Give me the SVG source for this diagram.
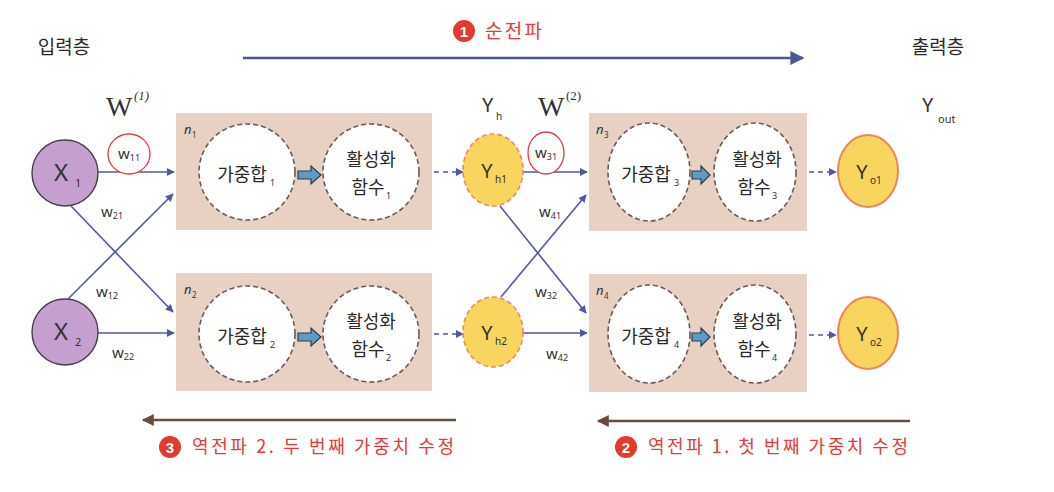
<svg xmlns="http://www.w3.org/2000/svg" width="1054" height="492" viewBox="0 0 1054 492">
<defs>
<style>
.k{font-family:"Noto Sans CJK KR","Noto Sans",sans-serif;fill:#2a2a2a}
.red{fill:#e8393a}
.box{fill:#e8d0c2}
.dc{fill:#fff;stroke:#6b5a55;stroke-width:1.6;stroke-dasharray:5 3}
.ln{stroke:#4f58a6;stroke-width:1.6;fill:none}
.dl{stroke:#4f58a6;stroke-width:1.6;fill:none;stroke-dasharray:5 4}
.xin{fill:#c49fd0;stroke:#4a3d4a;stroke-width:1.4}
.yh{fill:#f8d55e;stroke:#ec8a5c;stroke-width:1.6;stroke-dasharray:5 3}
.yo{fill:#f8d55e;stroke:#ef8458;stroke-width:2}
.blk{fill:#5b9bc6;stroke:#2f3a48;stroke-width:1.2}
.w{font-family:"Liberation Serif",serif;fill:#333}
.lab{font-family:"Noto Sans","Noto Sans CJK KR",sans-serif;fill:#333}
.wl{font-family:"Noto Sans",sans-serif;fill:#333;font-size:15px}
.s{font-size:9px}
.num{font-family:"Liberation Sans",sans-serif;font-weight:bold;fill:#fff;font-size:15px}
</style>
<marker id="ah" viewBox="0 0 10 10" refX="9" refY="5" markerWidth="8" markerHeight="8" markerUnits="userSpaceOnUse" orient="auto"><path d="M0,0 L10,5 L0,10 z" fill="#4f58a6"/></marker>
<marker id="big" viewBox="0 0 10 10" refX="9" refY="5" markerWidth="16" markerHeight="14" markerUnits="userSpaceOnUse" orient="auto"><path d="M0,0 L10,5 L0,10 z" fill="#4c5596"/></marker>
<marker id="brn" viewBox="0 0 10 10" refX="9" refY="5" markerWidth="16" markerHeight="12" markerUnits="userSpaceOnUse" orient="auto"><path d="M0,0 L10,5 L0,10 z" fill="#6a4c3c"/></marker>
</defs>
<rect width="1054" height="492" fill="#fff"/>

<!-- titles -->
<g id="titles">
<text x="64" y="54" class="k" font-size="19" text-anchor="middle">입력층</text>
<text x="938" y="54" class="k" font-size="19" text-anchor="middle">출력층</text>
<circle cx="464" cy="31" r="11" fill="#e23a2c"/><text x="464" y="36.5" class="num" text-anchor="middle">1</text>
<text x="485" y="38" class="k red" font-size="19" textLength="57" lengthAdjust="spacing">순전파</text>
<text x="106" y="116" class="w" font-size="28">W</text><text x="134" y="100" class="w" font-size="13" font-style="italic">(1)</text>
<text x="538" y="116" class="w" font-size="28">W</text><text x="566" y="100" class="w" font-size="13">(2)</text>
<text x="482" y="112" class="lab" font-size="20">Y</text><text x="496" y="120" class="lab" font-size="10">h</text>
<text x="922" y="112" class="lab" font-size="20">Y</text><text x="938" y="123" class="lab" font-size="11">out</text>
</g>

<!-- connectors -->
<g id="connectors">
<line x1="243" y1="58" x2="803" y2="58" stroke="#4c5596" stroke-width="2.5" marker-end="url(#big)"/>
<line x1="456" y1="420" x2="143" y2="420" stroke="#6a4c3c" stroke-width="2.5" marker-end="url(#brn)"/>
<line x1="910" y1="421" x2="598" y2="421" stroke="#6a4c3c" stroke-width="2.5" marker-end="url(#brn)"/>
<line x1="98" y1="172" x2="174" y2="172" class="ln" marker-end="url(#ah)"/>
<line x1="71" y1="206" x2="173" y2="312" class="ln" marker-end="url(#ah)"/>
<line x1="68" y1="299" x2="173" y2="194" class="ln" marker-end="url(#ah)"/>
<line x1="98" y1="333" x2="174" y2="333" class="ln" marker-end="url(#ah)"/>
<line x1="523" y1="172" x2="587" y2="172" class="ln" marker-end="url(#ah)"/>
<line x1="500" y1="206" x2="586" y2="313" class="ln" marker-end="url(#ah)"/>
<line x1="501" y1="297" x2="586" y2="195" class="ln" marker-end="url(#ah)"/>
<line x1="523" y1="333" x2="587" y2="333" class="ln" marker-end="url(#ah)"/>
<line x1="434" y1="172" x2="463" y2="172" class="dl" marker-end="url(#ah)"/>
<line x1="434" y1="334" x2="463" y2="334" class="dl" marker-end="url(#ah)"/>
<line x1="809" y1="172" x2="836" y2="172" class="dl" marker-end="url(#ah)"/>
<line x1="809" y1="335" x2="836" y2="335" class="dl" marker-end="url(#ah)"/>
<text x="101" y="217" class="wl">w<tspan class="s" dy="2">21</tspan></text>
<text x="96" y="297" class="wl">w<tspan class="s" dy="2">12</tspan></text>
<text x="112" y="358" class="wl">w<tspan class="s" dy="2">22</tspan></text>
<text x="539" y="217" class="wl">w<tspan class="s" dy="2">41</tspan></text>
<text x="535" y="297" class="wl">w<tspan class="s" dy="2">32</tspan></text>
<text x="546" y="359" class="wl">w<tspan class="s" dy="2">42</tspan></text>
<ellipse cx="129" cy="154" rx="21" ry="20" fill="#fff" stroke="#e8393a" stroke-width="1.3"/>
<text x="118" y="159" class="wl red">w<tspan class="s" dy="2">11</tspan></text>
<ellipse cx="546" cy="153" rx="18" ry="21" fill="#fff" stroke="#e8393a" stroke-width="1.3"/>
<text x="535" y="158" class="wl red">w<tspan class="s" dy="2">31</tspan></text>
</g>

<!-- input nodes -->
<g id="x1"><circle cx="65" cy="173" r="33" class="xin"/><text x="61" y="181" class="lab" font-size="24" text-anchor="middle">X</text><text x="75" y="187" class="lab" font-size="11">1</text></g>
<g id="x2"><circle cx="65" cy="332" r="33" class="xin"/><text x="61" y="340" class="lab" font-size="24" text-anchor="middle">X</text><text x="75" y="346" class="lab" font-size="11">2</text></g>

<!-- neuron boxes -->
<g id="n1">
<rect x="176" y="113" width="256" height="117" class="box"/>
<text x="184" y="134" class="lab" font-size="13" font-style="italic">n</text><text x="192" y="138" class="lab" font-size="8">1</text>
<circle cx="247" cy="172" r="48" class="dc"/><circle cx="371" cy="172" r="48" class="dc"/>
<text x="242" y="181" class="k" font-size="18" text-anchor="middle">가중합</text><text x="270" y="186" class="lab" font-size="9">1</text>
<text x="371" y="166" class="k" font-size="18" text-anchor="middle">활성화</text>
<text x="368" y="194" class="k" font-size="18" text-anchor="middle">함수</text><text x="386" y="199" class="lab" font-size="9">1</text>
<path d="M298,171 h13 v-5 l10,9 l-10,9 v-5 h-13 z" class="blk"/>
</g>
<g id="n2">
<rect x="176" y="273" width="256" height="118" class="box"/>
<text x="184" y="294" class="lab" font-size="13" font-style="italic">n</text><text x="192" y="298" class="lab" font-size="8">2</text>
<circle cx="247" cy="334" r="48" class="dc"/><circle cx="371" cy="334" r="48" class="dc"/>
<text x="242" y="343" class="k" font-size="18" text-anchor="middle">가중합</text><text x="270" y="348" class="lab" font-size="9">2</text>
<text x="371" y="328" class="k" font-size="18" text-anchor="middle">활성화</text>
<text x="368" y="356" class="k" font-size="18" text-anchor="middle">함수</text><text x="386" y="361" class="lab" font-size="9">2</text>
<path d="M298,333 h13 v-5 l10,9 l-10,9 v-5 h-13 z" class="blk"/>
</g>

<!-- hidden outputs -->
<g id="yh1"><ellipse cx="493" cy="170" rx="30" ry="36" class="yh"/><text x="487" y="178" class="lab" font-size="20" text-anchor="middle">Y</text><text x="495" y="183" class="lab" font-size="10">h1</text></g>
<g id="yh2"><ellipse cx="493" cy="332" rx="30" ry="35" class="yh"/><text x="487" y="340" class="lab" font-size="20" text-anchor="middle">Y</text><text x="495" y="345" class="lab" font-size="10">h2</text></g>

<g id="n3">
<rect x="589" y="113" width="218" height="118" class="box"/>
<text x="596" y="134" class="lab" font-size="13" font-style="italic">n</text><text x="604" y="138" class="lab" font-size="8">3</text>
<ellipse cx="649" cy="172" rx="41" ry="49" class="dc"/><ellipse cx="755" cy="172" rx="41" ry="49" class="dc"/>
<text x="646" y="181" class="k" font-size="18" text-anchor="middle">가중합</text><text x="674" y="186" class="lab" font-size="9">3</text>
<text x="757" y="166" class="k" font-size="18" text-anchor="middle">활성화</text>
<text x="754" y="194" class="k" font-size="18" text-anchor="middle">함수</text><text x="772" y="199" class="lab" font-size="9">3</text>
<path d="M692,171 h9 v-5 l9,9 l-9,9 v-5 h-9 z" class="blk"/>
</g>
<g id="n4">
<rect x="589" y="274" width="218" height="118" class="box"/>
<text x="596" y="295" class="lab" font-size="13" font-style="italic">n</text><text x="604" y="299" class="lab" font-size="8">4</text>
<ellipse cx="649" cy="334" rx="41" ry="49" class="dc"/><ellipse cx="755" cy="334" rx="41" ry="49" class="dc"/>
<text x="646" y="343" class="k" font-size="18" text-anchor="middle">가중합</text><text x="674" y="348" class="lab" font-size="9">4</text>
<text x="757" y="328" class="k" font-size="18" text-anchor="middle">활성화</text>
<text x="754" y="356" class="k" font-size="18" text-anchor="middle">함수</text><text x="772" y="361" class="lab" font-size="9">4</text>
<path d="M692,333 h9 v-5 l9,9 l-9,9 v-5 h-9 z" class="blk"/>
</g>

<g id="yo1"><ellipse cx="868" cy="171" rx="30" ry="36" class="yo"/><text x="862" y="179" class="lab" font-size="20" text-anchor="middle">Y</text><text x="870" y="184" class="lab" font-size="10">o1</text></g>
<g id="yo2"><ellipse cx="868" cy="333" rx="30" ry="36" class="yo"/><text x="862" y="341" class="lab" font-size="20" text-anchor="middle">Y</text><text x="870" y="346" class="lab" font-size="10">o2</text></g>

<!-- backprop labels -->
<g id="bp">
<circle cx="170" cy="447" r="11" fill="#e23a2c"/><text x="170" y="452.5" class="num" text-anchor="middle">3</text>
<text x="192" y="453" class="k red" font-size="18" textLength="262" lengthAdjust="spacing">역전파 2. 두 번째 가중치 수정</text>
<circle cx="626" cy="447" r="11" fill="#e23a2c"/><text x="626" y="452.5" class="num" text-anchor="middle">2</text>
<text x="648" y="453" class="k red" font-size="18" textLength="260" lengthAdjust="spacing">역전파 1. 첫 번째 가중치 수정</text>
</g>
</svg>
